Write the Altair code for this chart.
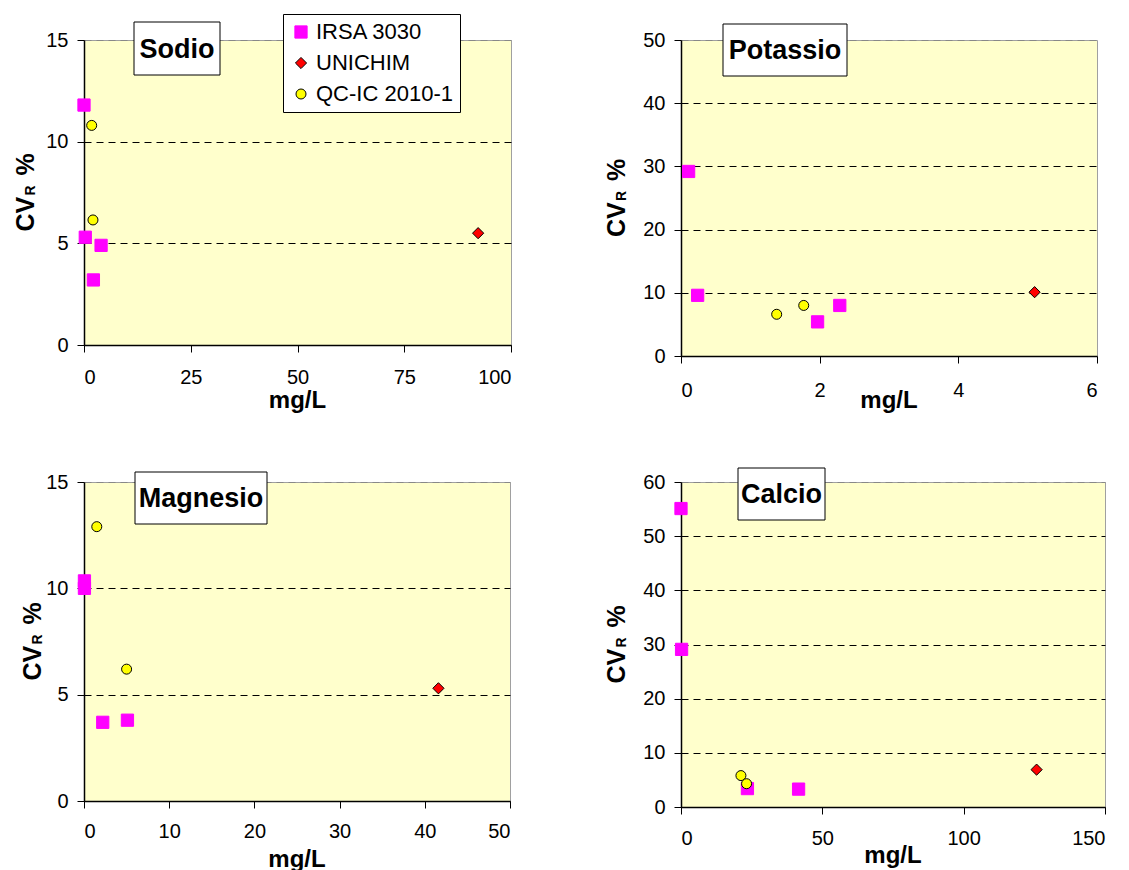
import altair as alt
import pandas as pd

FONT = "Liberation Sans"
methods = ["IRSA 3030", "UNICHIM", "QC-IC 2010-1"]
fills = ["#FF00FF", "#FF0000", "#FFFF00"]
strokes = ["#FF00FF", "#000000", "#000000"]
shapes = ["square", "diamond", "circle"]
sizes = [150, 100, 100]

# Sodio
na_irsa_x = [0.0, 0.3, 4.0, 2.2]
na_irsa_y = [11.8, 5.3, 4.9, 3.2]
na_uni_x = [92.3]
na_uni_y = [5.5]
na_qc_x = [1.8, 2.1]
na_qc_y = [10.8, 6.15]

# Potassio
k_irsa_x = [0.11, 0.24, 1.97, 2.29]
k_irsa_y = [29.2, 9.6, 5.4, 8.0]
k_uni_x = [5.1]
k_uni_y = [10.1]
k_qc_x = [1.38, 1.77]
k_qc_y = [6.6, 8.0]

# Magnesio
mg_irsa_x = [0.05, 0.05, 2.2, 5.1]
mg_irsa_y = [10.35, 10.0, 3.7, 3.8]
mg_uni_x = [41.6]
mg_uni_y = [5.3]
mg_qc_x = [1.5, 5.0]
mg_qc_y = [12.9, 6.2]

# Calcio
ca_irsa_x = [0.0, 0.2, 23.5, 41.6]
ca_irsa_y = [55.1, 29.1, 3.4, 3.3]
ca_uni_x = [125.8]
ca_uni_y = [6.9]
ca_qc_x = [21.2, 23.2]
ca_qc_y = [5.8, 4.3]

x_title = "mg/L"


def make_df(ix, iy, ux, uy, qx, qy):
    rows = []
    for xs, ys, m in [(ix, iy, methods[0]), (ux, uy, methods[1]), (qx, qy, methods[2])]:
        for a, b in zip(xs, ys):
            rows.append({"x": a, "y": b, "Metodo": m})
    return pd.DataFrame(rows)


legend = alt.Legend(
    title=None, orient="none", legendX=199, legendY=-26,
    fillColor="white", strokeColor="black", padding=7,
    labelFont=FONT, labelFontSize=22, labelColor="black",
    rowPadding=9, labelOffset=4, symbolStrokeWidth=1,
)


def one():
    return alt.Data(values=[{"a": 1}])


def panel(name, df, xdom, xticks, ydom, yticks, w, h, box, ytdx, xtdy, xlp):
    leg = legend
    pts = alt.Chart(df).mark_point(filled=True, opacity=1, strokeWidth=1).encode(
        x=alt.X("x:Q", scale=alt.Scale(domain=xdom, nice=False, zero=False),
                axis=alt.Axis(values=xticks, title=None, grid=False, labelPadding=xlp)),
        y=alt.Y("y:Q", scale=alt.Scale(domain=ydom, nice=False, zero=False),
                axis=alt.Axis(values=yticks, title=None, grid=True, gridDash=[7, 5],
                              gridColor=alt.condition(f"datum.value == {ydom[1]}", alt.value("#888888"), alt.value("#000000")),
                              labelPadding=9)),
        fill=alt.Fill("Metodo:N", scale=alt.Scale(domain=methods, range=fills), legend=leg),
        shape=alt.Shape("Metodo:N", scale=alt.Scale(domain=methods, range=shapes), legend=leg),
        stroke=alt.Stroke("Metodo:N", scale=alt.Scale(domain=methods, range=strokes), legend=leg),
        size=alt.Size("Metodo:N", scale=alt.Scale(domain=methods, range=sizes), legend=leg),
    )
    bx0, bx1, by0, by1 = box
    rect = alt.Chart(one()).mark_rect(fill="white", stroke="black", strokeWidth=1).encode(
        x=alt.value(bx0), x2=alt.value(bx1), y=alt.value(by0), y2=alt.value(by1))
    ttl = alt.Chart(one()).mark_text(text=name, font=FONT, fontSize=27, fontWeight="bold",
                                     align="center", baseline="middle", color="black").encode(
        x=alt.value((bx0 + bx1) / 2), y=alt.value((by0 + by1) / 2 + 1))
    cv = alt.Chart(one()).mark_text(text="CV", font=FONT, fontSize=25, fontWeight="bold",
                                    angle=270, align="left", baseline="alphabetic", color="black").encode(
        x=alt.value(ytdx), y=alt.value(h / 2 + 39))
    sub = alt.Chart(one()).mark_text(text="R", font=FONT, fontSize=14, fontWeight="bold",
                                     angle=270, align="left", baseline="alphabetic", color="black").encode(
        x=alt.value(ytdx + 1), y=alt.value(h / 2 + 3))
    pct = alt.Chart(one()).mark_text(text="%", font=FONT, fontSize=25, fontWeight="bold",
                                     angle=270, align="left", baseline="alphabetic", color="black").encode(
        x=alt.value(ytdx), y=alt.value(h / 2 - 17))
    xt = alt.Chart(one()).mark_text(text=x_title, font=FONT, fontSize=24, fontWeight="bold",
                                    align="center", baseline="alphabetic", color="black").encode(
        x=alt.value(w / 2), y=alt.value(h + xtdy))
    return alt.layer(pts, rect, ttl, cv, sub, pct, xt).properties(width=w, height=h)


sodio = panel("Sodio", make_df(na_irsa_x, na_irsa_y, na_uni_x, na_uni_y, na_qc_x, na_qc_y),
              [0, 100], [0, 25, 50, 75, 100], [0, 15], [0, 5, 10, 15], 427, 305,
              (50, 136, -18, 35), -50, 63, 15)
potassio = panel("Potassio", make_df(k_irsa_x, k_irsa_y, k_uni_x, k_uni_y, k_qc_x, k_qc_y),
                 [0, 6], [0, 2, 4, 6], [0, 50], [0, 10, 20, 30, 40, 50], 416, 316,
                 (42, 166, -16, 36), -56, 52, 17)
magnesio = panel("Magnesio", make_df(mg_irsa_x, mg_irsa_y, mg_uni_x, mg_uni_y, mg_qc_x, mg_qc_y),
                 [0, 50], [0, 10, 20, 30, 40, 50], [0, 15], [0, 5, 10, 15], 426, 319,
                 (51, 183, -10, 42), -43, 66, 13)
calcio = panel("Calcio", make_df(ca_irsa_x, ca_irsa_y, ca_uni_x, ca_uni_y, ca_qc_x, ca_qc_y),
               [0, 150], [0, 50, 100, 150], [0, 60], [0, 10, 20, 30, 40, 50, 60], 424, 325,
               (57, 144, -14, 38), -56, 56, 14)

chart = alt.concat(sodio, potassio, magnesio, calcio, columns=2, bounds="flush",
                   spacing={"row": 126, "column": 170}).properties(
    padding={"left": 5, "top": 5, "right": 5, "bottom": 5}
).configure_view(fill="#FFFFCC", stroke="#A0A0A0", strokeWidth=1).configure_axis(
    domainColor="black", tickColor="black", tickSize=7, labelFont=FONT, labelFontSize=20,
    labelColor="black", domainWidth=1.5,
)

chart.save("out.html", embed_options={"renderer": "svg", "actions": False})
